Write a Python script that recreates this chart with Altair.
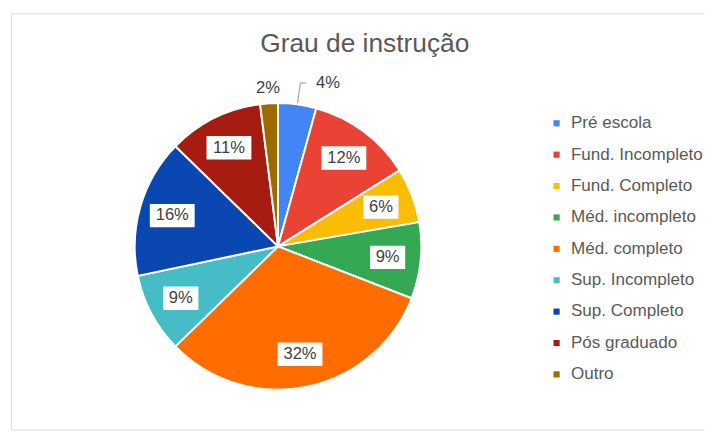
import altair as alt
import pandas as pd

categories = ["Pré escola", "Fund. Incompleto", "Fund. Completo", "Méd. incompleto",
              "Méd. completo", "Sup. Incompleto", "Sup. Completo", "Pós graduado", "Outro"]
values = [4.3, 11.8, 6.2, 8.6, 31.8, 9.0, 15.6, 10.7, 2.0]
labels = ["4%", "12%", "6%", "9%", "32%", "9%", "16%", "11%", "2%"]
colors = ["#4285f4", "#ea4335", "#fbbc04", "#34a853", "#ff6d01",
          "#46bdc6", "#0b47b0", "#a61c10", "#9b6b00"]
inside = [False, True, True, True, True, True, True, True, False]
leader = [True, False, False, False, False, False, False, False, False]

df = pd.DataFrame({"cat": categories, "value": values, "label": labels,
                   "inside": inside, "leader": leader, "idx": list(range(len(categories)))})

CX, CY, R, RL = 274, 239, 147, 113
FONT = "Liberation Sans"

base = (alt.Chart(df)
        .transform_joinaggregate(total="sum(value)")
        .transform_window(cum="sum(value)", sort=[alt.SortField("idx")], frame=[None, 0])
        .transform_calculate(a=f"(datum.cum - datum.value/2)/datum.total*2*PI")
        .transform_calculate(
            lx=f"{CX} + {RL}*sin(datum.a)", ly=f"{CY} - {RL}*cos(datum.a)",
            ex=f"{CX} + {R+1}*sin(datum.a)", ey=f"{CY} - {R+1}*cos(datum.a)",
            ox=f"{CX} + 163*sin(datum.a)", oy=f"{CY} - 163*cos(datum.a)",
            bw="16 + 10*length(datum.label)")
        .transform_calculate(
            x1="datum.lx - datum.bw/2", x2="datum.lx + datum.bw/2",
            y1="datum.ly - 12", y2="datum.ly + 12",
            kx="datum.ex + 3", ky="datum.ey - 21", kx2="datum.ex + 9",
            tx="datum.ex + 19"))

arcs = base.mark_arc(stroke="white", strokeWidth=2).encode(
    theta=alt.Theta("value:Q", stack=True),
    order=alt.Order("idx:Q"),
    color=alt.Color("cat:N", sort=categories,
                    scale=alt.Scale(domain=categories, range=colors),
                    legend=alt.Legend(title=None, orient="none", legendX=551, legendY=104,
                                      symbolType="square", symbolSize=40, symbolStrokeWidth=0,
                                      labelFontSize=17.5, labelFont=FONT, labelColor="#595959",
                                      rowPadding=13.2, labelOffset=6, labelLimit=200)),
    x=alt.value(CX), y=alt.value(CY), radius=alt.value(R),
)

boxes = base.transform_filter("datum.inside").mark_rect(color="white").encode(
    x=alt.X("x1:Q", scale=None, axis=None), x2="x2:Q",
    y=alt.Y("y1:Q", scale=None, axis=None), y2="y2:Q",
)

texts = base.transform_filter("datum.inside").mark_text(
    font=FONT, fontSize=17, color="#404040", baseline="middle", align="center").encode(
    x=alt.X("lx:Q", scale=None), y=alt.Y("ly:Q", scale=None), text="label:N")

rule1 = base.transform_filter("datum.leader").mark_rule(color="#a6a6a6", strokeWidth=1.2).encode(
    x=alt.X("ex:Q", scale=None), y=alt.Y("ey:Q", scale=None),
    x2="kx:Q", y2="ky:Q")
rule2 = base.transform_filter("datum.leader").mark_rule(color="#a6a6a6", strokeWidth=1.2).encode(
    x=alt.X("kx:Q", scale=None), y=alt.Y("ky:Q", scale=None),
    x2="kx2:Q", y2="ky:Q")

lead_text = base.transform_filter("datum.leader").mark_text(
    font=FONT, fontSize=17, color="#404040", baseline="middle", align="left").encode(
    x=alt.X("tx:Q", scale=None), y=alt.Y("ky:Q", scale=None), text="label:N")

out_text = base.transform_filter("!datum.inside && !datum.leader").mark_text(
    font=FONT, fontSize=17, color="#404040", baseline="middle", align="center").encode(
    x=alt.X("ox:Q", scale=None), y=alt.Y("oy:Q", scale=None), text="label:N")

chart = alt.layer(arcs, boxes, texts, rule1, rule2, lead_text, out_text).properties(
    width=712, height=427,
    title=alt.TitleParams("Grau de instrução", fontSize=27, font=FONT, color="#595959",
                          fontWeight="normal", anchor="middle", dy=50, dx=7),
    autosize=alt.AutoSizeParams(type="none"),
    padding={"left": 3, "top": 0, "right": 0, "bottom": 0},
).configure_view(stroke="#d9d9d9", strokeWidth=1.5).configure(background="white")

chart.save("out.html", embed_options={"renderer": "svg", "actions": False})
